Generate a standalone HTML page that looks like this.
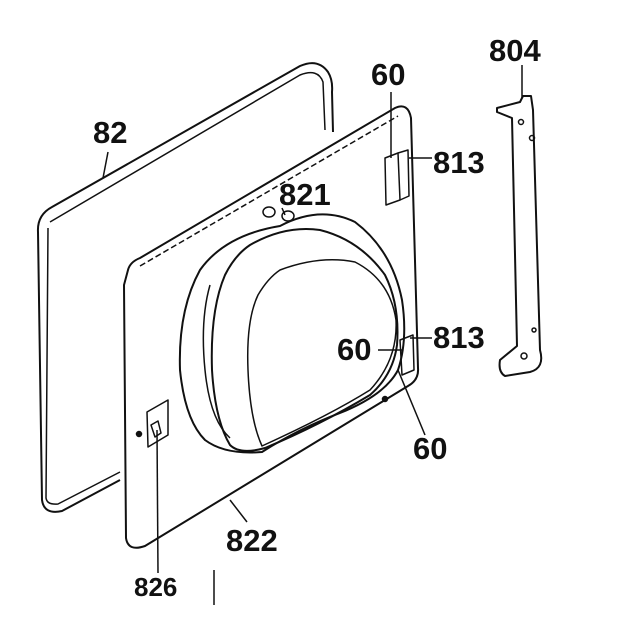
<!DOCTYPE html>
<html><head><style>
html,body{margin:0;padding:0;background:#fff;width:622px;height:631px;overflow:hidden}
text{font-family:"Liberation Sans",Arial,sans-serif;font-weight:bold;fill:#111}
</style></head><body>
<svg width="622" height="631" viewBox="0 0 622 631" xmlns="http://www.w3.org/2000/svg" fill="none" stroke="#111" stroke-width="1.5" stroke-linejoin="round">
<!-- back panel 82 -->
<path d="M120,480 L62,511 Q44,515 42,500 L38,232 Q37,215 52,207 L300,66 Q318,58 328,72 Q333,80 332,92 L333,132" stroke-width="2"/>
<path d="M48,228 L46,498 Q47,505 58,504 L120,472" />
<path d="M50,222 L300,75 Q318,68 323,82 L325,130"/>
<!-- front panel 822 -->
<path d="M128,270 Q130,262 140,258 L395,108 Q408,102 411,118 L418,368 Q419,380 408,386 L145,546 Q128,552 126,538 L124,285 Z" stroke-width="2"/>
<path d="M140,266 L398,116" stroke-dasharray="6,3"/>
<!-- 813 top slot -->
<path d="M385,158 L398,153 L400,200 L386,205 Z"/>
<path d="M398,153 L408,150 L409,196 L400,200"/>
<!-- 813 lower slot -->
<path d="M400,340 L413,335 L414,370 L402,375 Z"/>
<!-- 826 -->
<path d="M147,412 L168,400 L168,435 L148,447 Z"/>
<path d="M151,425 L158,421 L161,433 L155,437 Z"/>
<circle cx="139" cy="434" r="2.5" fill="#111"/>
<circle cx="385" cy="399" r="2.5" fill="#111"/>
<!-- 821 screw -->
<ellipse cx="269" cy="212" rx="6" ry="5"/>
<ellipse cx="288" cy="216" rx="6" ry="5"/>
<!-- door outer ring -->
<path d="M280,226 Q320,205 355,222 Q392,250 402,300 Q408,340 398,370 Q385,395 340,413 Q300,428 262,452 Q225,455 205,440 Q185,420 180,370 Q178,310 200,270 Q225,235 280,226 Z" stroke-width="2"/>
<path d="M210,285 Q200,320 205,370 Q210,420 230,438"/>
<!-- inner dome -->
<path d="M250,245 Q285,225 320,230 Q360,240 385,275 Q400,305 397,345 Q393,375 370,395 Q320,425 265,448 Q240,455 230,445 Q215,420 212,370 Q210,310 225,275 Q235,255 250,245 Z" stroke-width="2"/>
<path d="M280,270 Q320,255 355,262 Q390,280 396,320 Q398,360 370,390 Q330,415 262,446 Q250,420 248,370 Q246,320 258,295 Q268,278 280,270 Z"/>
<!-- bracket 804 -->
<path d="M497,108 L520,102 L523,96 L531,96 L533,110 L540,350 Q545,368 530,372 L505,376 Q498,372 500,360 L517,346 L512,118 L497,112 Z" stroke-width="2"/>
<circle cx="521" cy="122" r="2.5"/><circle cx="532" cy="138" r="2.5"/>
<circle cx="534" cy="330" r="2"/><circle cx="524" cy="356" r="3"/>
<!-- leaders -->
<path d="M108,152 L103,178"/>
<path d="M391,92 L391,158"/>
<path d="M409,158 L432,158"/>
<path d="M410,338 L432,338"/>
<path d="M378,350 L402,350"/>
<path d="M398,370 L425,435"/>
<path d="M282,208 L285,215"/>
<path d="M522,65 L522,98"/>
<path d="M230,500 L247,522"/>
<path d="M157,430 L158,573"/>
<path d="M214,570 L214,605"/>
<path d="M0,0"/>
</svg>
<svg width="622" height="631" style="position:absolute;left:0;top:0">
<text x="93" y="143" font-size="31">82</text>
<text x="371" y="85" font-size="31">60</text>
<text x="489" y="61" font-size="31">804</text>
<text x="433" y="173" font-size="31">813</text>
<text x="279" y="205" font-size="31">821</text>
<text x="433" y="348" font-size="31">813</text>
<text x="337" y="360" font-size="31">60</text>
<text x="413" y="459" font-size="31">60</text>
<text x="226" y="551" font-size="31">822</text>
<text x="134" y="596" font-size="26">826</text>
</svg>
</body></html>
